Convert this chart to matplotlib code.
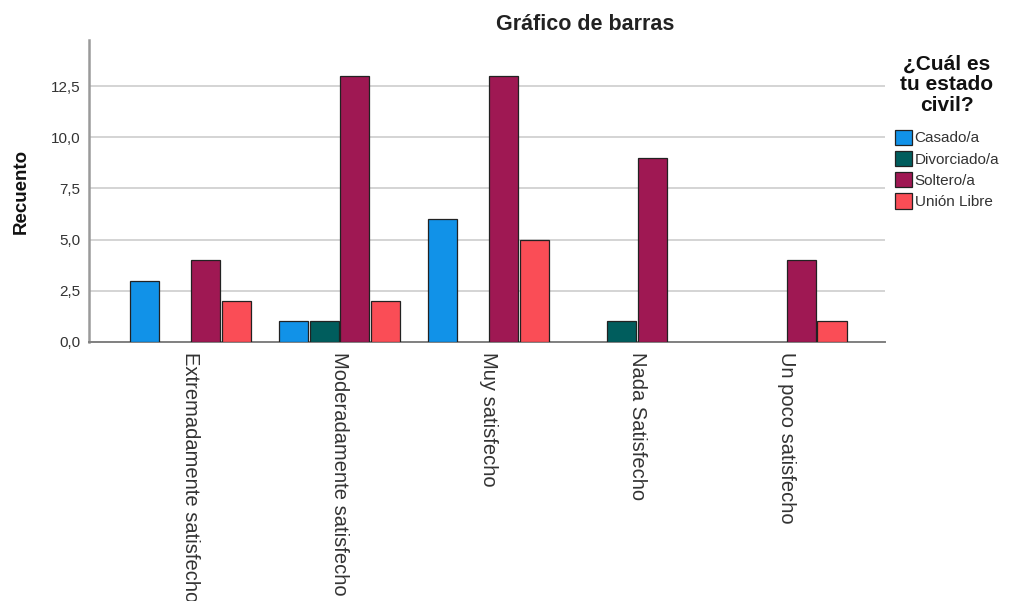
import numpy as np
import matplotlib
matplotlib.use('Agg')
import matplotlib.pyplot as plt
from matplotlib.ticker import FuncFormatter

plt.rcParams['font.family'] = ['Liberation Sans', 'DejaVu Sans']

categories = ["Extremadamente satisfecho", "Moderadamente satisfecho", "Muy satisfecho",
              "Nada Satisfecho", "Un poco satisfecho"]
series_names = ["Casado/a", "Divorciado/a", "Soltero/a", "Unión Libre"]
casado = [3, 1, 6, 0, 0]
divorciado = [0, 1, 0, 1, 0]
soltero = [4, 13, 13, 9, 4]
union_libre = [2, 2, 5, 0, 1]
y_ticks = [0, 2.5, 5, 7.5, 10, 12.5]

colors = ['#1192e8', '#005d5d', '#9f1853', '#fa4d56']

fig = plt.figure(figsize=(10.13, 6.01), dpi=100)
ax = fig.add_axes([0.0879, 0.431, 0.7857, 0.5025])

x = np.arange(len(categories))
pitch = 0.205
width = 0.195
for i, (name, vals) in enumerate(zip(series_names, [casado, divorciado, soltero, union_libre])):
    vals = np.array(vals, dtype=float)
    mask = vals > 0
    ax.bar(x[mask] + (i - 1.5) * pitch, vals[mask], width=width, color=colors[i],
           edgecolor='#222222', linewidth=0.9, label=name, zorder=3)

ax.set_xlim(-0.68, 4.663)
ax.set_ylim(0, 14.75)
ax.set_yticks(y_ticks)
ax.yaxis.set_major_formatter(FuncFormatter(lambda v, p: f"{v:.1f}".replace('.', ',')))
ax.grid(axis='y', color='#d4d4d4', linewidth=1.4, zorder=0)
ax.set_axisbelow(True)

for s in ['top', 'right']:
    ax.spines[s].set_visible(False)
ax.spines['left'].set_color('#9a9a9a')
ax.spines['left'].set_linewidth(1.8)
ax.spines['bottom'].set_color('#808080')
ax.spines['bottom'].set_linewidth(1.4)

ax.tick_params(axis='y', length=0, pad=6, labelsize=11, labelcolor='#333333')
ax.tick_params(axis='x', length=0, pad=7)
ax.set_xticks(x)
ax.set_xticklabels(categories, rotation=-90, ha='center', va='top',
                   fontsize=14.5, color='#333333')

ax.set_ylabel("Recuento", fontsize=13.5, fontweight='bold', color='#111111')
ax.yaxis.set_label_coords(-0.074, 0.5)

fig.text(585 / 1013, 1 - 25 / 601, "Gráfico de barras", ha='center', va='center',
         fontsize=15.5, fontweight='bold', color='#222222')

# legend title as its own centred block, entries below it
fig.text(947 / 1013, 1 - 85 / 601, "¿Cuál es\ntu estado\ncivil?", ha='center', va='center',
         multialignment='center', fontsize=15, fontweight='bold', color='#111111',
         linespacing=1.1)

leg = ax.legend(loc='upper left', bbox_to_anchor=(884 / 1013, 1 - 119 / 601),
                bbox_transform=fig.transFigure, frameon=False,
                fontsize=11, handlelength=1.1, handleheight=1.15,
                handletextpad=0.2, labelspacing=0.36, borderpad=0.2)
for t in leg.get_texts():
    t.set_color('#333333')

fig.savefig('out.png', dpi=100)
